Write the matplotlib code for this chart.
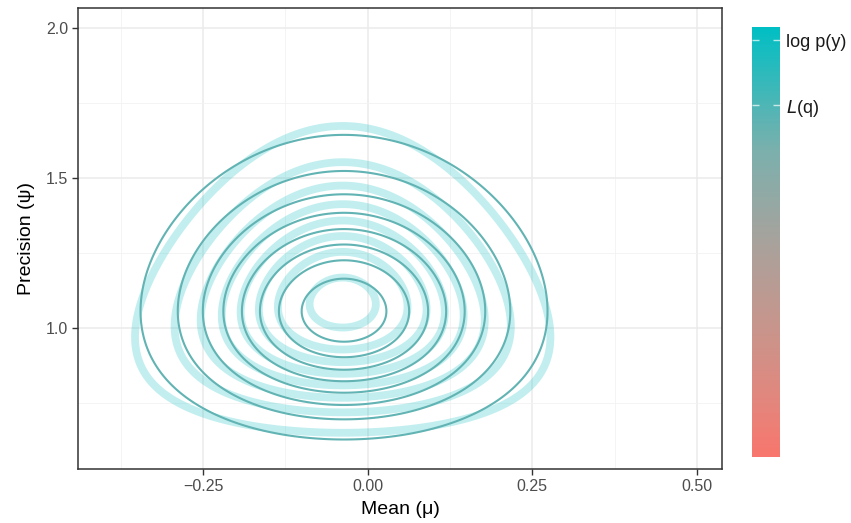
import numpy as np
import matplotlib
matplotlib.use("Agg")
import matplotlib.pyplot as plt
from matplotlib.colors import LinearSegmentedColormap, Normalize
from matplotlib.cm import ScalarMappable

plt.rcParams['font.family'] = ['Liberation Sans', 'DejaVu Sans']

# true posterior p(mu, psi | y) : normal-gamma parameters
p_m = -0.038
p_kappa = 45.2
p_alpha = 21.4
p_beta = 19.3

# variational approximation q(mu) q(psi) : normal x gamma
q_m = -0.036
q_sd = 0.144
q_shape = 21.17
q_rate = 19.1

# contour levels, as fraction of the peak density
p_levels = [0.10, 0.215, 0.33, 0.445, 0.56, 0.675, 0.79, 0.94]
q_levels = [0.10, 0.215, 0.33, 0.445, 0.56, 0.675, 0.79, 0.905]

# colour scale values
cbar_limits = [-16.0, -9.4]
log_py = -9.6
elbo = -10.6
cbar_labels = ["log p(y)", r"$L$(q)"]
cbar_colours = [(0.0, "#F8766D"), (0.12, "#E4857C"), (0.26, "#CE9288"),
                (0.5, "#A8A29C"), (0.714, "#7BB0AD"), (1.0, "#00BFC4")]

x_ticks = [-0.25, 0.0, 0.25, 0.5]
y_ticks = [1.0, 1.5, 2.0]

mu = np.linspace(-0.5, 0.6, 500)
psi = np.linspace(0.4, 2.2, 500)
MU, PSI = np.meshgrid(mu, psi)

log_p = (p_alpha - 0.5) * np.log(PSI) - PSI * (p_beta + p_kappa * (MU - p_m) ** 2 / 2)
dens_p = np.exp(log_p - log_p.max())
log_q = -(MU - q_m) ** 2 / (2 * q_sd ** 2) + (q_shape - 1) * np.log(PSI) - q_rate * PSI
dens_q = np.exp(log_q - log_q.max())

cmap = LinearSegmentedColormap.from_list("grad", cbar_colours)
norm = Normalize(cbar_limits[0], cbar_limits[1])

fig = plt.figure(figsize=(8.51, 5.23), dpi=100)
ax = fig.add_axes([78 / 851, 1 - 469 / 523, 644 / 851, 461 / 523])

ax.contour(MU, PSI, dens_p, levels=p_levels, colors=[cmap(norm(log_py))],
           alpha=0.25, linewidths=5.6)
ax.contour(MU, PSI, dens_q, levels=q_levels, colors="#62B3B3", linewidths=1.5)

ax.set_xlim(-0.44, 0.538)
ax.set_ylim(0.53, 2.067)
ax.set_xticks(x_ticks)
ax.set_xticklabels(["\u22120.25", "0.00", "0.25", "0.50"])
ax.set_yticks(y_ticks)
ax.set_yticklabels(["1.0", "1.5", "2.0"])
ax.set_xticks([-0.375, -0.125, 0.125, 0.375], minor=True)
ax.set_yticks([0.75, 1.25, 1.75], minor=True)
ax.grid(True, which="major", color="#EBEBEB", linewidth=1.1)
ax.grid(True, which="minor", color="#F2F2F2", linewidth=0.6)
ax.set_axisbelow(True)
ax.tick_params(which="major", length=4, width=1.0, color="#333333",
               labelcolor="#4D4D4D", labelsize=11.5, pad=3)
ax.tick_params(which="minor", length=0)
for s in ax.spines.values():
    s.set_color("#333333")
    s.set_linewidth(1.1)
ax.set_xlabel("Mean (\u03bc)", fontsize=14, labelpad=5)
ax.set_ylabel("Precision (\u03c8)", fontsize=14, labelpad=8)

cax = fig.add_axes([752 / 851, 1 - 457 / 523, 28 / 851, 430 / 523])
cb = fig.colorbar(ScalarMappable(norm=norm, cmap=cmap), cax=cax)
cb.outline.set_visible(False)
cb.set_ticks([log_py, elbo])
cb.set_ticklabels(cbar_labels)
cax.tick_params(direction="in", left=True, right=True, length=5, width=1.0,
                color=(1, 1, 1, 0.7), labelsize=13, labelcolor="#1A1A1A", pad=4)

fig.savefig("out.png", dpi=100)
